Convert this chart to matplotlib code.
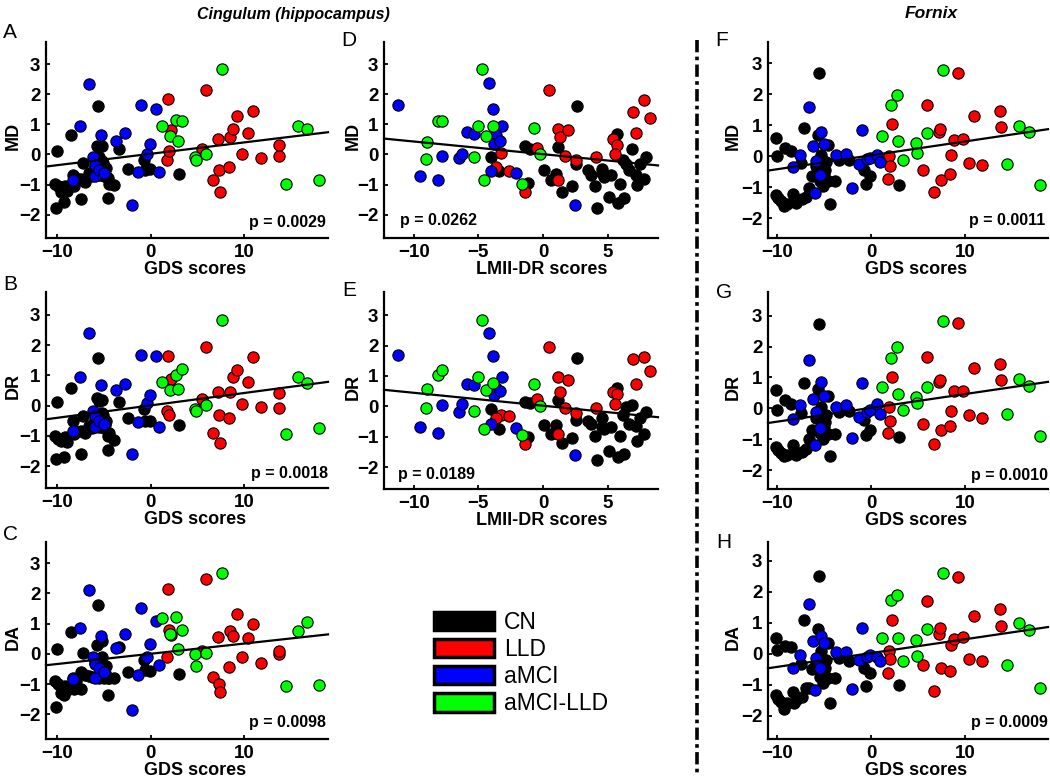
import matplotlib
matplotlib.use('Agg')
import matplotlib.pyplot as plt
from matplotlib.patches import Patch
from matplotlib.lines import Line2D
import numpy as np

plt.rcParams['font.family'] = ['Liberation Sans', 'DejaVu Sans']

# ---------------- data ----------------
group_names = ['CN', 'LLD', 'aMCI', 'aMCI-LLD']
group_colors = ['#000000', '#ff0000', '#0000ff', '#00ff00']

# GDS scores (shared by panels A, B, C, F, G, H)
gds_cn = [-10.2, -10.1, -10.0, -9.9, -9.6, -9.3, -9.2, -9.0, -8.5, -8.3, -8.2, -8.0, -7.5, -7.4, -7.2, -7.0,
          -6.6, -6.3, -5.9, -5.7, -5.6, -5.5, -5.5, -5.3, -5.2, -5.2, -5.1, -5.0, -4.9, -4.8, -4.6, -4.6,
          -4.4, -3.9, -3.4, -2.4, -0.75, -0.6, -0.1, 3.0]
gds_lld = [1.8, 1.9, 2.0, 2.2, 5.5, 5.9, 6.7, 7.25, 7.35, 7.4, 8.4, 8.5, 8.8, 9.3, 9.8, 10.4, 11.0, 11.8, 13.7, 13.8]
gds_amci = [-8.3, -7.6, -6.6, -6.2, -6.0, -5.9, -5.5, -5.3, -5.0, -3.7, -2.7, -2.0, -1.3, -1.0, -0.4, -0.1, 0.6, 0.9]
gds_amcilld = [1.2, 2.1, 2.7, 2.9, 3.4, 4.8, 4.9, 5.9, 7.7, 14.5, 15.8, 16.8, 18.0]

# Cingulum MD (panel A)
cing_md_cn = [-0.97, -1.78, 0.13, -1.05, -1.23, -1.59, -1.04, -1.2, 0.65, -0.67, -1.04, -0.78, -0.82, -1.48, -0.27, -0.9,
              -0.60, -0.73, -0.40, 0.27, 1.61, -0.07, -0.67, -0.51, 0.27, -0.2, -0.29, -0.73, -0.64, -0.45, -0.79, -1.45,
              -0.97, -1.0, 0.19, -0.49, -0.18, -0.51, -0.49, -0.65]
cing_md_lld = [-0.18, 1.84, 0.10, 0.80, 0.19, 2.15, -0.86, 0.51, -0.53, -1.25, -0.40, 0.58, 0.86, 1.26, 0.02, 0.71, 1.43, -0.11, -0.04, 0.32]
cing_md_amci = [-0.84, 0.93, 2.35, -0.07, -0.73, -0.35, -0.5, 0.65, -0.6, 0.45, 0.71, -1.67, -0.59, 1.65, 0.0, 0.35, 1.50, -0.59]
cing_md_amcilld = [0.93, 0.60, 1.13, 0.45, 1.10, -0.07, -0.18, 0.02, 2.83, -0.97, 0.93, 0.85, -0.84]

# Cingulum DR (panel B)
cing_dr_cn = [-1.0, -1.75, 0.13, -1.10, -1.17, -1.70, -1.04, -1.2, 0.57, -0.51, -0.95, -0.85, -0.84, -1.59, -0.34, -0.9,
              -0.68, -0.73, -0.45, 0.26, 1.59, 0.15, -0.7, -0.55, 0.2, -0.25, -0.3, -0.75, -0.65, -0.5, -1.0, -1.47,
              -0.9, -1.12, 0.13, -0.42, -0.12, -0.51, -0.49, -0.64]
cing_dr_lld = [-0.18, 1.64, -0.29, 0.87, 0.23, 1.94, -0.90, 0.46, -0.31, -1.23, -0.40, 0.46, 0.96, 1.17, 0.06, 0.78, 1.61, -0.05, -0.07, 0.41]
cing_dr_amci = [-0.85, 0.95, 2.42, -0.18, -0.7, -0.35, -0.5, 0.67, -0.6, 0.52, 0.73, -1.60, -0.55, 1.68, 0.10, 0.37, 1.64, -0.71]
cing_dr_amcilld = [0.78, 0.53, 1.03, 0.56, 1.20, -0.10, -0.18, 0.02, 2.83, -0.92, 0.96, 0.74, -0.73]

# Cingulum DA (panel C)
cing_da_cn = [-0.91, -1.75, 0.16, -1.0, -1.29, -1.37, -1.07, -1.2, 0.73, -0.80, -1.18, -0.9, -0.61, -1.18, 0.02, -0.7,
              -0.75, -0.78, -0.3, 0.29, 1.63, -0.25, -0.8, -0.5, 0.43, -0.1, -0.4, -0.8, -0.64, -0.42, -0.8, -1.35,
              -0.8, -0.8, 0.21, -0.6, -0.22, -0.53, -0.58, -0.66]
cing_da_lld = [-0.12, 2.15, 0.78, 0.62, 0.10, 2.48, -0.77, 0.57, -1.0, -1.27, -0.45, 0.76, 0.59, 1.33, -0.12, 0.53, 1.0, -0.31, -0.01, 0.10]
cing_da_amci = [-0.82, 0.86, 2.12, -0.09, -0.8, -0.35, -0.47, 0.58, -0.6, 0.20, 0.64, -1.86, -0.69, 1.53, -0.12, 0.32, 1.09, -0.36]
cing_da_amcilld = [1.19, 0.65, 1.22, 0.16, 0.78, 0.0, -0.42, 0.04, 2.66, -1.08, 0.76, 1.06, -1.02]

# Fornix MD (panel F)
fx_md_cn = [-1.25, 0.59, 0.0, -1.34, -1.45, -1.61, 0.27, -1.55, 0.16, -1.23, -1.45, -1.5, -0.21, -1.39, 0.91, -1.3,
            -1.02, -0.64, -0.32, 0.70, 2.68, -0.64, -0.8, 0.05, -0.11, -0.32, -0.96, -0.59, -0.45, -0.2, 0.37, -0.80,
            -1.55, -0.80, -0.11, -0.11, -0.43, -0.88, -0.64, -0.93]
fx_md_lld = [-0.72, 0.02, -0.32, 1.05, -0.45, 1.66, -1.16, 0.78, 0.89, -0.77, -0.56, 0.05, 0.54, 2.68, 0.57, -0.21, 1.31, -0.27, 1.45, 0.93]
fx_md_amci = [-0.34, 0.05, 1.58, 0.32, -1.18, -0.16, -0.59, 0.78, 0.41, 0.05, 0.07, -1.02, -0.24, 0.86, -0.1, -0.05, 0.05, -0.19]
fx_md_amcilld = [0.64, 1.66, 1.98, 0.48, -0.11, 0.43, 0.11, 0.75, 2.78, -0.24, 0.99, 0.77, -0.93]

# Fornix DR (panel G)
fx_dr_cn = [-1.23, 0.60, -0.04, -1.34, -1.45, -1.55, 0.28, -1.5, 0.13, -1.18, -1.45, -1.5, -0.15, -1.39, 0.81, -1.3,
            -0.97, -0.7, -0.3, 0.63, 2.72, -0.65, -0.8, 0.04, -0.17, -0.38, -0.99, -0.6, -0.45, -0.2, 0.39, -0.83,
            -1.53, -0.83, -0.1, -0.09, -0.38, -0.86, -0.7, -0.91]
fx_dr_lld = [-0.78, 0.04, -0.41, 1.0, -0.49, 1.66, -1.15, 0.84, 0.91, -0.68, -0.56, -0.09, 0.57, 2.76, 0.57, -0.22, 1.32, -0.31, 1.43, 0.91]
fx_dr_amci = [-0.33, 0.10, 1.55, 0.31, -1.18, -0.12, -0.63, 0.86, 0.41, 0.06, 0.10, -0.95, -0.28, 0.82, -0.12, -0.04, 0.13, -0.17]
fx_dr_amcilld = [0.70, 1.62, 1.98, 0.47, -0.04, 0.38, 0.18, 0.70, 2.81, -0.17, 0.95, 0.71, -0.88]

# Fornix DA (panel H)
fx_da_cn = [-1.32, 0.52, 0.11, -1.46, -1.55, -1.79, 0.25, -1.6, 0.22, -1.25, -1.6, -1.5, -0.34, -1.41, 1.09, -1.1,
            -1.09, -0.5, -0.3, 0.78, 2.52, -0.58, -0.75, 0.09, -0.15, -0.29, -0.96, -0.66, -0.45, -0.2, 0.34, -0.77,
            -1.59, -0.77, -0.13, -0.23, -0.47, -1.03, -0.63, -1.02]
fx_da_lld = [-0.63, 0.09, -0.16, 1.08, -0.36, 1.69, -1.20, 0.64, 0.84, -0.45, -0.57, 0.27, 0.46, 2.46, 0.55, -0.18, 1.21, -0.25, 1.43, 0.89]
fx_da_amci = [-0.45, -0.05, 1.59, 0.41, -1.18, -0.15, -0.45, 0.57, 0.36, 0.05, 0.05, -1.14, -0.2, 0.82, -0.1, -0.05, -0.1, -0.25]
fx_da_amcilld = [0.52, 1.72, 1.89, 0.49, -0.23, 0.44, -0.07, 0.81, 2.60, -0.36, 1.00, 0.75, -1.09]

# LMII-DR scores (panels D, E)
lm_cn = [-4.0, -3.4, -1.4, -1.0, -1.15, 0.05, 0.6, 0.97, 1.15, 1.5, 2.25, 2.6, 2.55, 3.5, 3.7, 4.05, 4.2, 4.6,
         4.55, 4.7, 5.1, 5.3, 5.75, 5.8, 5.95, 6.3, 6.2, 6.45, 6.65, 6.9, 7.2, 7.3, 7.5, 7.8, 8.0]
lm_lld = [0.5, 1.15, 1.3, 1.9, -0.5, -3.25, -3.6, -2.65, -1.4, 1.15, 1.7, 2.55, 4.1, 5.4, 5.7, 5.6, 7.0, 7.2, 7.8, 8.3]
lm_amci = [-11.2, -9.5, -8.1, -7.8, -6.5, -6.3, -5.9, -5.3, -4.15, -3.9, -3.2, -3.6, -3.8, -3.3, -4.0, -2.05, 2.5]
lm_amcilld = [-4.75, -8.1, -7.8, -9.0, -9.05, -5.3, -5.0, -4.4, -3.9, -0.7, -0.2, -4.6, -1.6]

lm_md_cn = [-0.10, -0.56, 0.27, 0.18, -0.95, -0.53, -0.83, -0.65, 0.25, -1.26, -1.04, 1.62, -0.30, -0.52, -0.68, -1.06,
            -1.78, -0.47, -0.63, -0.76, -1.42, -0.67, 0.67, -1.60, -0.99, -1.45, -0.17, -0.30, -0.50, 0.17, -0.69,
            -1.02, -0.30, -0.80, -0.10]
lm_md_lld = [2.15, 0.85, 0.58, 0.80, 0.21, 0.04, -0.40, -0.56, -1.25, -0.86, -0.04, -0.18, -0.10, 0.52, 0.32, 0.02, 1.42, 0.72, 1.80, 1.20]
lm_md_amci = [1.65, -0.71, -0.86, -0.04, -0.12, 0.01, 0.73, 0.67, 2.37, 1.50, 0.93, 0.65, 0.34, 0.45, -0.56, -0.60, -1.69]
lm_md_amcilld = [2.83, 1.12, 1.10, 0.43, -0.14, -0.07, 0.93, 0.60, 0.93, 0.87, 0.02, -0.84, -0.97]

lm_dr_cn = [-0.10, -0.76, 0.15, 0.12, -1.00, -0.62, -0.90, -0.62, 0.20, -1.20, -1.03, 1.58, -0.44, -0.49, -0.57, -0.98,
            -1.75, -0.40, -0.68, -0.75, -1.48, -0.68, 0.61, -1.67, -0.98, -1.56, -0.28, -0.03, -0.58, 0.05, -0.66,
            -1.13, -0.40, -0.90, -0.20]
lm_dr_lld = [1.94, 0.98, 0.46, 0.85, 0.24, -0.27, -0.40, -0.32, -1.23, -0.92, -0.07, -0.21, -0.04, 0.46, 0.40, 0.07, 1.57, 0.74, 1.62, 1.15]
lm_dr_amci = [1.68, -0.68, -0.87, 0.04, -0.18, 0.07, 0.72, 0.70, 2.41, 1.66, 0.95, 0.61, 0.37, 0.50, -0.57, -0.71, -1.59]
lm_dr_amcilld = [2.83, 1.03, 1.20, 0.56, -0.07, -0.16, 0.96, 0.52, 0.76, 0.74, 0.02, -0.73, -0.93]

# regression fits (intercept, slope) and p-values
fit_A, fit_B, fit_C = (0.022, 0.0377), (0.01, 0.041), (0.0, 0.0338)
fit_D, fit_E = (0.01, -0.042), (0.02, -0.0425)
fit_F, fit_G, fit_H = (0.03, 0.0448), (0.02, 0.0445), (0.02, 0.0445)
p_texts = {'A': 'p = 0.0029', 'B': 'p = 0.0018', 'C': 'p = 0.0098', 'D': 'p = 0.0262',
           'E': 'p = 0.0189', 'F': 'p = 0.0011', 'G': 'p = 0.0010', 'H': 'p = 0.0009'}

# ---------------- figure ----------------
W, H = 1050, 777
fig = plt.figure(figsize=(W / 100, H / 100), dpi=100)


def rect(l, r, t, b):
    return [l / W, 1 - b / H, (r - l) / W, (b - t) / H]


gds_x = [gds_cn, gds_lld, gds_amci, gds_amcilld]
lm_x = [lm_cn, lm_lld, lm_amci, lm_amcilld]

panels = [
    ('A', rect(46, 328, 42, 238), gds_x, [cing_md_cn, cing_md_lld, cing_md_amci, cing_md_amcilld], fit_A,
     (-11.2, 19.0), (-2.77, 3.73), [-10, 0, 10], 'GDS scores', 'MD', (0.993, 0.058, 'right'), 0.53, 24),
    ('B', rect(46, 328, 292, 488), gds_x, [cing_dr_cn, cing_dr_lld, cing_dr_amci, cing_dr_amcilld], fit_B,
     (-11.2, 19.0), (-2.72, 3.76), [-10, 0, 10], 'GDS scores', 'DR', (0.999, 0.05, 'right'), 0.53, 24),
    ('C', rect(46, 328, 542, 739), gds_x, [cing_da_cn, cing_da_lld, cing_da_amci, cing_da_amcilld], fit_C,
     (-11.2, 19.0), (-2.82, 3.7), [-10, 0, 10], 'GDS scores', 'DA', (0.993, 0.06, 'right'), 0.53, 24),
    ('D', rect(384, 658, 42, 238), lm_x, [lm_md_cn, lm_md_lld, lm_md_amci, lm_md_amcilld], fit_D,
     (-12.3, 8.9), (-2.77, 3.73), [-10, -5, 0, 5], 'LMII-DR scores', 'MD', (0.057, 0.066, 'left'), 0.577, 22),
    ('E', rect(384, 658, 292, 489), lm_x, [lm_dr_cn, lm_dr_lld, lm_dr_amci, lm_dr_amcilld], fit_E,
     (-12.3, 8.9), (-2.72, 3.76), [-10, -5, 0, 5], 'LMII-DR scores', 'DR', (0.05, 0.05, 'left'), 0.577, 22),
    ('F', rect(768, 1048, 42, 238), gds_x, [fx_md_cn, fx_md_lld, fx_md_amci, fx_md_amcilld], fit_F,
     (-11.0, 18.85), (-2.64, 3.69), [-10, 0, 10], 'GDS scores', 'MD', (0.989, 0.066, 'right'), 0.53, 26),
    ('G', rect(768, 1048, 292, 489), gds_x, [fx_dr_cn, fx_dr_lld, fx_dr_amci, fx_dr_amcilld], fit_G,
     (-11.0, 18.85), (-2.6, 3.76), [-10, 0, 10], 'GDS scores', 'DR', (1.0, 0.046, 'right'), 0.53, 26),
    ('H', rect(768, 1048, 542, 739), gds_x, [fx_da_cn, fx_da_lld, fx_da_amci, fx_da_amcilld], fit_H,
     (-11.0, 18.85), (-2.75, 3.6), [-10, 0, 10], 'GDS scores', 'DA', (1.0, 0.06, 'right'), 0.53, 26),
]

draw_order = [2, 0, 3, 1]  # aMCI, CN, aMCI-LLD, LLD

for (letter, r, xs, ys, fit, xlim, ylim, xt, xl, yl, ppos, xlab_c, ylab_off) in panels:
    ax = fig.add_axes(r)
    for gi in draw_order:
        ax.scatter(xs[gi], ys[gi], s=66, c=group_colors[gi], edgecolors='black',
                   linewidths=0.8, zorder=3 + gi * 0.01, clip_on=False)
    lx = np.array(xlim)
    ax.plot(lx, fit[0] + fit[1] * lx, color='black', lw=1.6, zorder=5, clip_on=False)
    ax.set_xlim(xlim)
    ax.set_ylim(ylim)
    ax.set_xticks(xt)
    ax.set_yticks([-2, -1, 0, 1, 2, 3])
    ax.spines['top'].set_visible(False)
    ax.spines['right'].set_visible(False)
    for sp in ('left', 'bottom'):
        ax.spines[sp].set_linewidth(1.6)
    ax.tick_params(direction='in', length=3, width=1.3, labelsize=13.5, pad=4)
    for lab in ax.get_xticklabels() + ax.get_yticklabels():
        lab.set_fontweight('bold')
    ax.set_xlabel(xl, fontsize=13, fontweight='bold')
    ax.set_ylabel(yl, fontsize=13, fontweight='bold')
    axw = r[2] * W
    ax.xaxis.set_label_coords(xlab_c, -0.115)
    ax.yaxis.set_label_coords(-ylab_off / axw, 0.52)
    ax.text(ppos[0], ppos[1], p_texts[letter], transform=ax.transAxes, ha=ppos[2], va='baseline',
            fontsize=11.5, fontweight='bold', zorder=6)

# panel letters
letter_pos = {'A': (10, 33), 'B': (10, 284), 'C': (10, 534), 'D': (349, 41), 'E': (349, 290),
              'F': (722, 41), 'G': (724, 292), 'H': (724, 542)}
for k, (px, py) in letter_pos.items():
    fig.text(px / W, 1 - py / H, k, ha='center', va='center', fontsize=15)

# titles
fig.text(293 / W, 1 - 14 / H, 'Cingulum (hippocampus)', ha='center', va='center', fontsize=11.5,
         fontweight='bold', fontstyle='italic')
fig.text(931 / W, 1 - 14 / H, 'Fornix', ha='center', va='center', fontsize=12.5,
         fontweight='bold', fontstyle='italic')

# separator
fig.add_artist(Line2D([697 / W, 697 / W], [1 - 40 / H, 1 - 775 / H], transform=fig.transFigure,
                      color='black', lw=2.6, linestyle=(0, (3.4, 1.2, 1.0, 1.2))))

# legend
handles = [Patch(facecolor=c, edgecolor='black', linewidth=2.5) for c in group_colors]
fig.legend(handles, group_names, loc='upper left', bbox_to_anchor=(434 / W, 1 - 611 / H),
           frameon=False, fontsize=16.5, handlelength=2.6, handleheight=0.85, labelspacing=0.18,
           handletextpad=0.45, borderpad=0, borderaxespad=0)

fig.savefig('out.png', dpi=100)
